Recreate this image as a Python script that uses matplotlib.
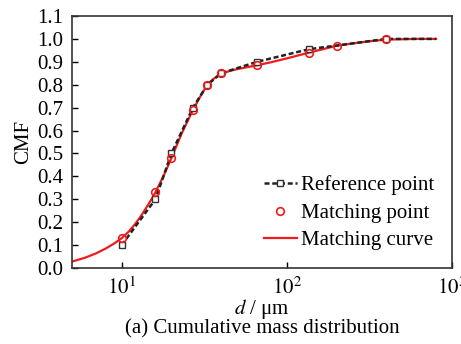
import numpy as np
import matplotlib
matplotlib.use("Agg")
from matplotlib import pyplot as plt

plt.rcParams['font.family'] = ['Liberation Serif', 'DejaVu Serif']
plt.rcParams['mathtext.fontset'] = 'stix'

# Reference points (black squares, dashed line)
ref_d = [10, 16, 20, 27, 33, 40, 66, 136, 400, 800]
ref_cmf = [0.10, 0.30, 0.50, 0.70, 0.80, 0.85, 0.90, 0.955, 1.0, 1.0]

# Matching points (red open circles)
match_d = [10, 16, 20, 27, 33, 40, 66, 136, 200, 400]
match_cmf = [0.13, 0.33, 0.48, 0.69, 0.80, 0.85, 0.885, 0.94, 0.97, 1.0]

# Matching curve
curve_d = [5, 6, 7, 8, 9, 10, 11, 12, 13, 14, 15, 16, 18, 20, 23, 27, 30,
           33, 36, 40, 45, 50, 66, 80, 100, 136, 200, 300, 400, 600, 800]
curve_cmf = [0.028, 0.045, 0.064, 0.085, 0.107, 0.13, 0.158, 0.19, 0.224,
             0.26, 0.295, 0.33, 0.405, 0.48, 0.585, 0.69, 0.75, 0.80, 0.826,
             0.848, 0.86, 0.868, 0.885, 0.898, 0.915, 0.94, 0.97, 0.988,
             0.997, 1.0, 1.0]

FS = 15

fig = plt.figure(figsize=(4.61, 3.44), dpi=100)
ax = fig.add_axes([72 / 461, 1 - 268 / 344, 380 / 461, 252 / 344])

ax.plot(curve_d, curve_cmf, color='#ee1c1c', lw=1.6, label='Matching curve',
        zorder=2)
ax.plot(ref_d, ref_cmf, color='#222222', lw=1.8, ls=(0, (2.0, 1.1)),
        marker='s', ms=5, mfc='white', mec='#333333', mew=1.0,
        markevery=list(range(len(ref_d) - 1)), label='Reference point',
        zorder=3)
ax.plot(match_d, match_cmf, ls='none', marker='o', ms=5.5, mfc='none',
        mec='#ee1c1c', mew=1.2, label='Matching point', zorder=4)

ax.set_xscale('log')
ax.set_xlim(5, 1000)
ax.set_ylim(0, 1.1)
ax.set_yticks(np.arange(0, 1.11, 0.1))
ax.set_yticklabels([f"{v:.1f}" for v in np.arange(0, 1.11, 0.1)])
ax.set_xticks([10, 100, 1000])
ax.set_xticklabels([r'$10^1$', r'$10^2$', r'$10^3$'])
ax.xaxis.set_minor_locator(matplotlib.ticker.NullLocator())
ax.tick_params(direction='in', length=4, width=1, labelsize=FS, pad=6)
ax.tick_params(axis='x', pad=7)
for s in ax.spines.values():
    s.set_linewidth(1.2)
    s.set_color('#333333')

ax.set_ylabel('CMF', fontsize=FS, labelpad=3)
ax.set_xlabel(r'$d$ / μm', fontsize=FS, labelpad=-2)
fig.text(262 / 461, 1 - 329 / 344, '(a) Cumulative mass distribution',
         ha='center', va='center', fontsize=FS)

h, l = ax.get_legend_handles_labels()
order = [1, 2, 0]
ax.legend([h[i] for i in order], [l[i] for i in order], loc='lower right',
          frameon=False, fontsize=FS, handlelength=1.6, handletextpad=0.2,
          labelspacing=0.38, borderaxespad=0.45)

fig.savefig('out.png', dpi=100)
